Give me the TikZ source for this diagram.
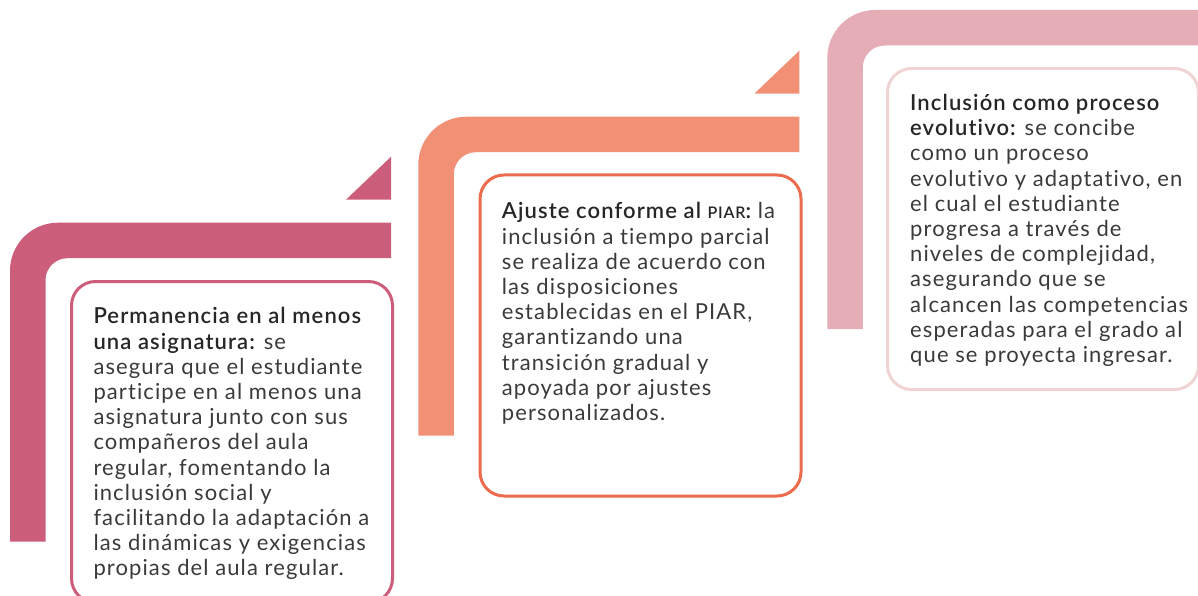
\documentclass[tikz,border=0pt]{standalone}
\usepackage{fontspec}
\setmainfont{Lato}[BoldFont={Lato Semibold},LetterSpace=5,Ligatures={NoCommon,NoRare}]
\usetikzlibrary{positioning}

\definecolor{rosa}{HTML}{CD5E7B}
\definecolor{salmon}{HTML}{F29076}
\definecolor{naranja}{HTML}{EE6B4D}
\definecolor{rosaclaro}{HTML}{E5ADB5}
\definecolor{rosapalido}{HTML}{F0D4D4}
\definecolor{texto}{HTML}{3A3A3A}

\newcommand{\hd}[1]{{\bfseries\color{black!85}#1}}

\tikzset{
  card/.style={draw, line width=3pt, rounded corners=24pt, anchor=north west,
    minimum width=321pt, minimum height=321pt, inner sep=0pt},
  cardtext/.style={anchor=north west, align=left, inner sep=0pt, text=texto,
    font=\fontsize{22}{25.2}\selectfont},
}

\begin{document}
\begin{tikzpicture}[x=1pt,y=-1pt]
  \useasboundingbox (0,0) rectangle (1198,596);
  % bandas
  \foreach \bx/\by/\col in {10/222.7/rosa, 418.3/116.7/salmon, 827.3/10/rosaclaro}{
    \begin{scope}[shift={(\bx,\by)}]
      \fill[\col] (0,319) -- (0,48) arc[start angle=180,end angle=270,radius=48]
      -- (381,0) -- (381,35.5) -- (57.5,35.5)
      arc[start angle=270,end angle=180,radius=22] -- (35.5,319) -- cycle;
      \fill[\col] (336,-23) -- (381,-66) -- (381,-23) -- cycle;
    \end{scope}
  }
  % tarjetas
  \node[card, draw=rosa] (box1) at (70,280) {};
  \node[card, draw=naranja] (box2) at (478.5,173.5) {};
  \node[card, draw=rosapalido, minimum width=311pt] (box3) at (886,67) {};
  \node[cardtext] (txt1) at (93.3,307.5) {%
    \hd{Permanencia en al menos}\\
    \hd{una asignatura:} se\\
    asegura que el estudiante\\
    participe en al menos una\\
    asignatura junto con sus\\
    compañeros del aula\\
    regular, fomentando la\\
    inclusión social y\\
    facilitando la adaptación a\\
    las dinámicas y exigencias\\
    propias del aula regular.};
  \node[cardtext] (txt2) at (501.7,202.5) {%
    \hd{Ajuste conforme al {\fontsize{16}{16}\selectfont PIAR}:} la\\
    inclusión a tiempo parcial\\
    se realiza de acuerdo con\\
    las disposiciones\\
    establecidas en el PIAR,\\
    garantizando una\\
    transición gradual y\\
    apoyada por ajustes\\
    personalizados.};
  \node[cardtext] (txt3) at (910,94) {%
    \hd{Inclusión como proceso}\\
    \hd{evolutivo:} se concibe\\
    como un proceso\\
    evolutivo y adaptativo, en\\
    el cual el estudiante\\
    progresa a través de\\
    niveles de complejidad,\\
    asegurando que se\\
    alcancen las competencias\\
    esperadas para el grado al\\
    que se proyecta ingresar.};
\end{tikzpicture}
\end{document}
